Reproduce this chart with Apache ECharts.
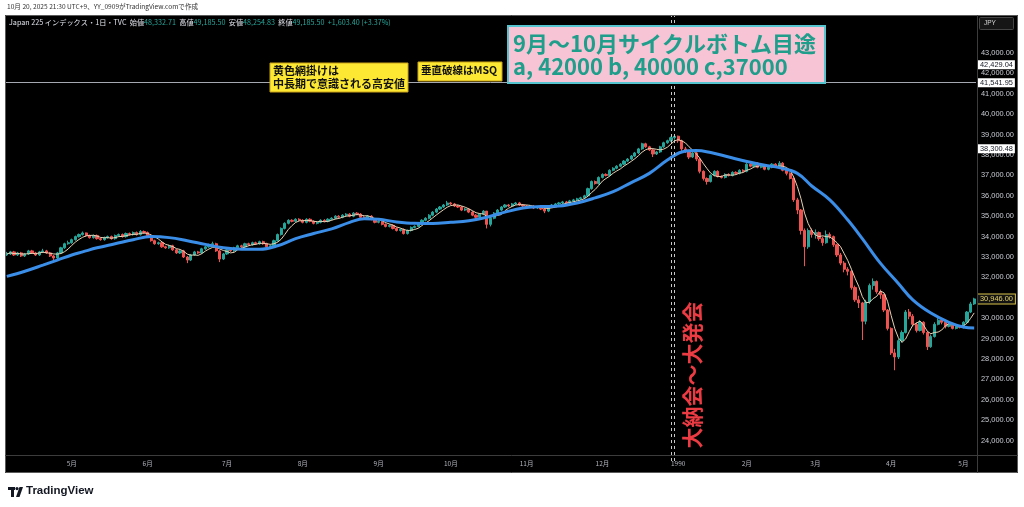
<!DOCTYPE html>
<html><head><meta charset="utf-8">
<script src="https://cdn.jsdelivr.net/npm/echarts@6/dist/echarts.min.js"></script>
<style>html,body{margin:0;padding:0;background:#fff}#c{width:1024px;height:507px}</style>
</head><body><div id="c"></div>
<script>
// ---- data ----
const monthLabels = ['4月','5月','6月','7月','8月','9月','10月','11月','12月','1990','2月','3月','4月','5月'];
const monthDays   = [18,21,22,21,21,20,21,21,21,19,19,21,20,4];
// [open, close, low, high]
const candles = [
[33100,33150,33050,33250],[33150,33250,33100,33300],[33250,33100,33050,33300],[33100,33200,33050,33250],[33200,33050,33000,33250],
[33050,33150,33000,33200],[33150,33300,33100,33350],[33300,33200,33150,33350],[33200,33100,33050,33250],[33100,33250,33050,33300],
[33250,33300,33200,33400],[33300,33200,33150,33350],[33200,33050,33000,33250],[33050,32950,32850,33100],[32950,33200,32900,33250],
[33200,33450,33150,33500],[33450,33650,33400,33700],[33650,33700,33600,33800],
[33700,33850,33650,33900],[33850,34000,33800,34050],[34000,34100,33950,34150],[34100,34180,34050,34250],[34180,34050,34000,34200],
[34050,33950,33900,34100],[33950,34050,33900,34100],[34050,33900,33850,34100],[33900,33850,33800,33950],[33850,33950,33800,34000],
[33950,34000,33900,34050],[34000,33900,33850,34050],[33900,34050,33850,34100],[34050,34100,34000,34150],[34100,34000,33950,34150],
[34000,34150,33950,34200],[34150,34100,34050,34200],[34100,34200,34050,34250],[34200,34100,34050,34250],[34100,34250,34050,34320],
[34250,34200,34150,34300],
[34200,34050,34000,34250],[34050,33800,33750,34100],[33800,33650,33600,33850],[33650,33700,33600,33750],[33700,33500,33450,33750],
[33500,33450,33400,33550],[33450,33550,33400,33600],[33550,33350,33300,33600],[33350,33200,33150,33400],[33200,33300,33150,33350],
[33300,33000,32950,33350],[33000,32850,32700,33050],[32850,33100,32800,33150],[33100,33250,33050,33300],[33250,33200,33150,33300],
[33200,33400,33150,33450],[33400,33500,33350,33550],[33500,33600,33450,33650],[33600,33650,33550,33750],[33650,33300,33250,33700],
[33300,32900,32750,33350],[32900,33150,32850,33200],
[33150,33350,33100,33400],[33350,33300,33250,33400],[33300,33450,33250,33500],[33450,33550,33400,33600],[33550,33500,33450,33600],
[33500,33650,33450,33700],[33650,33600,33550,33700],[33600,33700,33550,33750],[33700,33650,33600,33750],[33650,33750,33600,33800],
[33750,33650,33600,33800],[33650,33500,33450,33700],[33500,33550,33400,33600],[33550,33800,33500,33850],[33800,34100,33750,34150],
[34100,34400,34050,34450],[34400,34650,34350,34700],[34650,34800,34600,34850],[34800,34750,34700,34850],[34750,34850,34700,34900],
[34850,34800,34750,34900],
[34800,34700,34650,34850],[34700,34850,34650,34900],[34850,34750,34700,34900],[34750,34650,34600,34800],[34650,34700,34600,34750],
[34700,34800,34650,34850],[34800,34750,34700,34850],[34750,34850,34700,34900],[34850,34900,34800,34950],[34900,35000,34850,35050],
[35000,34950,34900,35050],[34950,35050,34900,35100],[35050,35100,35000,35150],[35100,35000,34950,35150],[35000,35150,34950,35200],
[35150,35100,35050,35200],[35100,34950,34900,35150],[34950,34900,34850,35000],[34900,35000,34850,35050],[35000,34850,34800,35050],
[34850,34700,34650,34900],
[34700,34750,34650,34800],[34750,34600,34550,34800],[34600,34500,34450,34650],[34500,34550,34450,34600],[34550,34400,34350,34600],
[34400,34300,34250,34450],[34300,34350,34250,34400],[34350,34150,34100,34400],[34150,34300,34100,34350],[34300,34450,34250,34500],
[34450,34500,34400,34550],[34500,34650,34450,34700],[34650,34800,34600,34850],[34800,34900,34750,34950],[34900,35050,34850,35100],
[35050,35200,35000,35250],[35200,35350,35150,35400],[35350,35450,35300,35500],[35450,35550,35400,35600],[35550,35650,35500,35750],
[35650,35600,35550,35700],[35600,35500,35450,35650],[35500,35450,35400,35550],[35450,35300,35250,35500],[35300,35350,35250,35400],
[35350,35200,35150,35400],[35200,35050,35000,35250],[35050,34950,34850,35100],[34950,35100,34900,35150],[35100,35250,35050,35300],
[35250,34600,34400,35250],[34600,34900,34500,34950],[34900,35150,34850,35200],[35150,35300,35100,35350],[35300,35450,35250,35500],
[35450,35550,35400,35600],[35550,35500,35450,35600],[35500,35600,35450,35650],[35600,35650,35550,35700],[35650,35550,35500,35700],
[35550,35500,35450,35600],
[35500,35450,35400,35550],[35450,35500,35400,35550],[35500,35400,35350,35550],[35400,35450,35350,35500],[35450,35350,35300,35500],
[35350,35250,35150,35400],[35250,35450,35200,35500],[35450,35550,35400,35600],[35550,35600,35500,35650],[35600,35650,35550,35700],
[35650,35700,35600,35750],[35700,35650,35600,35750],[35650,35750,35600,35800],[35750,35800,35700,35850],[35800,35850,35750,35900],
[35850,35900,35800,35950],[35900,36000,35850,36050],[36000,36350,35950,36400],[36350,36700,36300,36750],[36700,36600,36550,36750],
[36600,36900,36550,36950],
[36900,37050,36850,37100],[37050,37000,36950,37100],[37000,37250,36950,37300],[37250,37350,37200,37400],[37350,37450,37300,37500],
[37450,37550,37400,37600],[37550,37700,37500,37750],[37700,37800,37650,37850],[37800,37950,37750,38000],[37950,38100,37900,38150],
[38100,38300,38050,38350],[38300,38550,38250,38600],[38550,38400,38350,38600],[38400,38250,38200,38450],[38250,38050,37900,38300],
[38050,38150,38000,38200],[38150,38400,38100,38450],[38400,38600,38350,38650],[38600,38700,38550,38750],[38700,38850,38650,38900],
[38850,38915,38750,38957],
[38920,38700,38600,38950],[38700,38300,38200,38750],[38300,38200,38100,38400],[38200,37900,37800,38250],[37900,38100,37850,38150],
[38100,37800,37700,38150],[37800,37200,37100,37850],[37200,36850,36750,37250],[36850,36700,36550,36900],[36700,37000,36650,37050],
[37000,37200,36950,37250],[37200,36950,36900,37250],[36950,36900,36850,37000],[36900,37050,36850,37100],[37050,37000,36950,37100],
[37000,37150,36950,37200],[37150,37100,37050,37200],[37100,37250,37050,37300],[37250,37200,37150,37300],
[37200,37550,37150,37600],[37550,37450,37400,37600],[37450,37600,37400,37650],[37600,37400,37350,37650],[37400,37500,37350,37550],
[37500,37300,37250,37550],[37300,37400,37250,37450],[37400,37550,37350,37600],[37550,37450,37400,37600],[37450,37600,37400,37700],
[37600,37250,37200,37650],[37250,37100,37000,37300],[37100,36850,36800,37150],[36850,35800,35700,36900],[35800,35300,35100,35900],
[35300,34300,34100,35350],[34300,33500,32550,34400],[33500,34300,33400,34400],[34300,34100,33950,34400],
[34100,34200,33900,34350],[34200,33900,33800,34250],[33900,33700,33550,34000],[33700,34100,33650,34300],[34100,34000,33900,34200],
[34000,33600,33500,34050],[33600,33100,33000,33650],[33100,32700,32600,33200],[32700,32400,32250,32800],[32400,32300,32100,32500],
[32300,31500,31400,32350],[31500,30900,30800,31600],[30900,30750,30500,31100],[30750,29850,28930,30800],[29850,30800,29700,30900],
[30800,31600,30700,31700],[31600,31800,31400,31950],[31800,31300,31200,31850],[31300,31150,30950,31400],[31150,30400,30300,31200],
[30400,29500,29400,30450],
[29500,28300,28200,29550],[28300,28100,27450,28500],[28100,28900,28000,29000],[28900,29300,28800,29400],[29300,30300,29250,30400],
[30300,30100,29950,30450],[30100,29700,29600,30200],[29700,29400,29300,29800],[29400,29800,29350,29900],[29800,29300,29200,29850],
[29300,28600,28440,29350],[28600,29100,28550,29200],[29100,29700,29050,29800],[29700,29900,29650,30000],[29900,29800,29700,29950],
[29800,29600,29500,29850],[29600,29700,29550,29750],[29700,29500,29450,29750],[29500,29600,29450,29650],[29600,29550,29500,29650],
[29550,29800,29500,29850],[29800,30300,29750,30350],[30300,30700,30250,30800],[30700,30946,30650,31000]
];
// long moving average (blue), read at selected bars
const blueBars = [0,5,10,14,18,21,25,30,35,40,45,50,55,60,65,70,75,80,85,90,95,99,103,108,113,118,123,128,133,138,143,148,153,158,163,168,173,178,183,187,191,195,200,205,210,214,219,223,228,233,237,242,247,251,256,261,265,268];
const blueVals = [32050,32300,32600,32850,33100,33250,33450,33650,33850,34000,33950,33800,33620,33450,33380,33380,33550,33900,34150,34380,34700,34880,34850,34720,34650,34640,34700,34780,34950,35200,35400,35470,35500,35650,35900,36200,36650,37100,37750,38150,38220,38120,37900,37680,37500,37380,37100,36480,35800,34810,33900,32700,31700,30900,30250,29800,29570,29520];
const yMin = 23000, yMax = 45000, yStep = 1000;
const highLowLine = 41541.95;
const axisTags = [42429.04, 41541.95, 38300.48];
const lastClose = 30946.00;
const msqBars = [184, 185];

// ---- build ----
const categories = [];
const monthStart = {};
monthDays.forEach((n, mi) => {
  for (let k = 0; k < n; k++) {
    const name = mi + '-' + k;
    categories.push(name);
    if (k === 0 && mi > 0) monthStart[name] = monthLabels[mi];
  }
});
const closes = candles.map(c => c[1]);
const ma5 = closes.map((_, i) => {
  const s = closes.slice(Math.max(0, i - 4), i + 1);
  return +(s.reduce((a, b) => a + b, 0) / s.length).toFixed(1);
});
const blueData = blueBars.map((b, j) => [b, blueVals[j]]);
const fmt = v => Number(v).toLocaleString('en-US', {minimumFractionDigits: 2, maximumFractionDigits: 2});

const UP = '#26a69a', DOWN = '#ef5350';
const JP = '"Noto Sans CJK JP", "Noto Sans", sans-serif';
const LAT = '"Liberation Sans", Arial, sans-serif';
const HIDDEN = {color: 'rgba(0,0,0,0)', width: 1, type: 'solid'};

const tagLabel = {show: true, position: 'end', distance: 2, formatter: p => fmt(p.value),
  backgroundColor: '#ffffff', color: '#131722', fontSize: 7.4, fontFamily: LAT, padding: [1, 2, 1, 2]};

const markData = axisTags.map(v => ({
  yAxis: v,
  lineStyle: v === highLowLine ? {color: '#a5a8b0', width: 1, type: 'solid'} : HIDDEN,
  label: tagLabel
}));
markData.push({yAxis: lastClose, lineStyle: HIDDEN,
  label: Object.assign({}, tagLabel, {backgroundColor: '#141414', color: '#e6d36a', borderColor: '#d9c24a', borderWidth: 1})});
msqBars.forEach(b => markData.push({xAxis: categories[b], lineStyle: {color: '#c8c8c8', width: 1, type: [3, 3]}, label: {show: false}}));

const chart = echarts.init(document.getElementById('c'), null, {renderer: 'canvas'});
chart.setOption({
  backgroundColor: '#000000',
  animation: false,
  grid: {left: 5, right: 48, top: 12.2, bottom: 46},
  xAxis: {
    type: 'category', data: categories, boundaryGap: true,
    axisLine: {show: false}, axisTick: {show: false}, splitLine: {show: false},
    axisLabel: {
      interval: (i, v) => monthStart[v] !== undefined,
      formatter: v => monthStart[v] || '',
      color: '#b2b5be', fontSize: 6.5, fontFamily: JP, margin: 3, verticalAlign: 'middle'
    }
  },
  yAxis: {
    type: 'value', position: 'right', min: yMin, max: yMax, interval: yStep, scale: false,
    axisLine: {show: false}, axisTick: {show: false}, splitLine: {show: false},
    axisLabel: {
      formatter: v => (v < 24000 || v > 43000) ? '' : fmt(v),
      color: '#c9ccd4', fontSize: 7.4, fontFamily: LAT, margin: 5, align: 'left'
    }
  },
  series: [
    {type: 'candlestick', data: candles, barWidth: '74%',
     itemStyle: {color: UP, color0: DOWN, borderColor: UP, borderColor0: DOWN, borderWidth: 1},
     markLine: {symbol: 'none', silent: true, animation: false, data: markData}},
    {type: 'line', data: ma5, showSymbol: false, symbol: 'none', z: 3,
     lineStyle: {width: 1, color: '#e6d2b4'}},
    {type: 'line', data: blueData, smooth: 0.4, showSymbol: false, symbol: 'none', z: 4,
     lineStyle: {width: 3, color: '#3b8ee8'}}
  ],
  graphic: [
    {type: 'rect', z: 50, shape: {x: 0, y: 0, width: 1024, height: 15}, style: {fill: '#fff'}},
    {type: 'rect', z: 50, shape: {x: 0, y: 473, width: 1024, height: 34}, style: {fill: '#fff'}},
    {type: 'rect', z: 50, shape: {x: 0, y: 0, width: 5, height: 507}, style: {fill: '#fff'}},
    {type: 'rect', z: 50, shape: {x: 1018, y: 0, width: 6, height: 507}, style: {fill: '#fff'}},
    {type: 'rect', z: 51, shape: {x: 5.5, y: 15.5, width: 1012, height: 457}, style: {fill: null, stroke: '#5a5a5a', lineWidth: 1}},
    {type: 'line', z: 51, shape: {x1: 977.5, y1: 15, x2: 977.5, y2: 473}, style: {stroke: '#3c3c3c', lineWidth: 1}},
    {type: 'line', z: 51, shape: {x1: 5, y1: 455.5, x2: 1018, y2: 455.5}, style: {stroke: '#3c3c3c', lineWidth: 1}},
    // caption
    {type: 'text', z: 60, left: 7, top: 3, style: {text: '10月 20, 2025 21:30 UTC+9、YY_0909がTradingView.comで作成', fill: '#333', font: '6.6px ' + JP}},
    // header
    {type: 'text', z: 60, left: 9, top: 19, style: {
      text: '{w|Japan 225 インデックス・1日・TVC  始値}{g|48,332.71}{w|  高値}{g|49,185.50}{w|  安値}{g|48,254.83}{w|  終値}{g|49,185.50}{g|  +1,603.40 (+3.37%)}',
      rich: {w: {fill: '#e0e3eb', font: '7.2px ' + JP}, g: {fill: '#26a69a', font: '7.2px ' + JP}}}},
    // JPY box
    {type: 'rect', z: 60, shape: {x: 979.5, y: 17.5, width: 34, height: 12, r: 1}, style: {fill: '#161616', stroke: '#444'}},
    {type: 'text', z: 61, left: 984, top: 20, style: {text: 'JPY', fill: '#d8d8d8', font: '6.5px ' + LAT}},
    // yellow notes
    {type: 'rect', z: 60, shape: {x: 270, y: 63, width: 138, height: 29}, style: {fill: '#fde933', stroke: '#c9a21a', lineWidth: 1}},
    {type: 'text', z: 61, left: 273, top: 64, style: {text: '黄色網掛けは\n中長期で意識される高安値', fill: '#111', font: 'bold 11px ' + JP, lineHeight: 13}},
    {type: 'rect', z: 60, shape: {x: 418, y: 62, width: 84, height: 19}, style: {fill: '#fde933', stroke: '#c9a21a', lineWidth: 1}},
    {type: 'text', z: 61, left: 421, top: 65, style: {text: '垂直破線はMSQ', fill: '#111', font: 'bold 10.5px ' + JP}},
    // pink note
    {type: 'rect', z: 60, shape: {x: 508, y: 26, width: 317, height: 57}, style: {fill: '#f6c4d4', stroke: '#56c4cf', lineWidth: 2}},
    {type: 'text', z: 61, left: 513, top: 32, style: {text: '9月〜10月サイクルボトム目途\na, 42000 b, 40000 c,37000', fill: '#1f9e8c', font: 'bold 22px ' + JP, lineHeight: 23}},
    // vertical red note
    {type: 'text', z: 61, x: 692, y: 375, rotation: Math.PI / 2, style: {text: '大納会〜大発会', fill: '#ec3b43', font: 'bold 21px ' + JP, align: 'center', verticalAlign: 'middle'}},
    // TradingView logo
    {type: 'rect', z: 60, shape: {x: 8, y: 487, width: 7, height: 3}, style: {fill: '#131722'}},
    {type: 'rect', z: 60, shape: {x: 11, y: 487, width: 3, height: 10}, style: {fill: '#131722'}},
    {type: 'circle', z: 60, shape: {cx: 17, cy: 488.6, r: 1.6}, style: {fill: '#131722'}},
    {type: 'polygon', z: 60, shape: {points: [[19.5, 487], [23, 487], [19.5, 497], [16, 497]]}, style: {fill: '#131722'}},
    {type: 'text', z: 60, left: 26, top: 485, style: {text: 'TradingView', fill: '#131722', font: 'bold 11.5px ' + LAT}}
  ]
});
</script></body></html>
